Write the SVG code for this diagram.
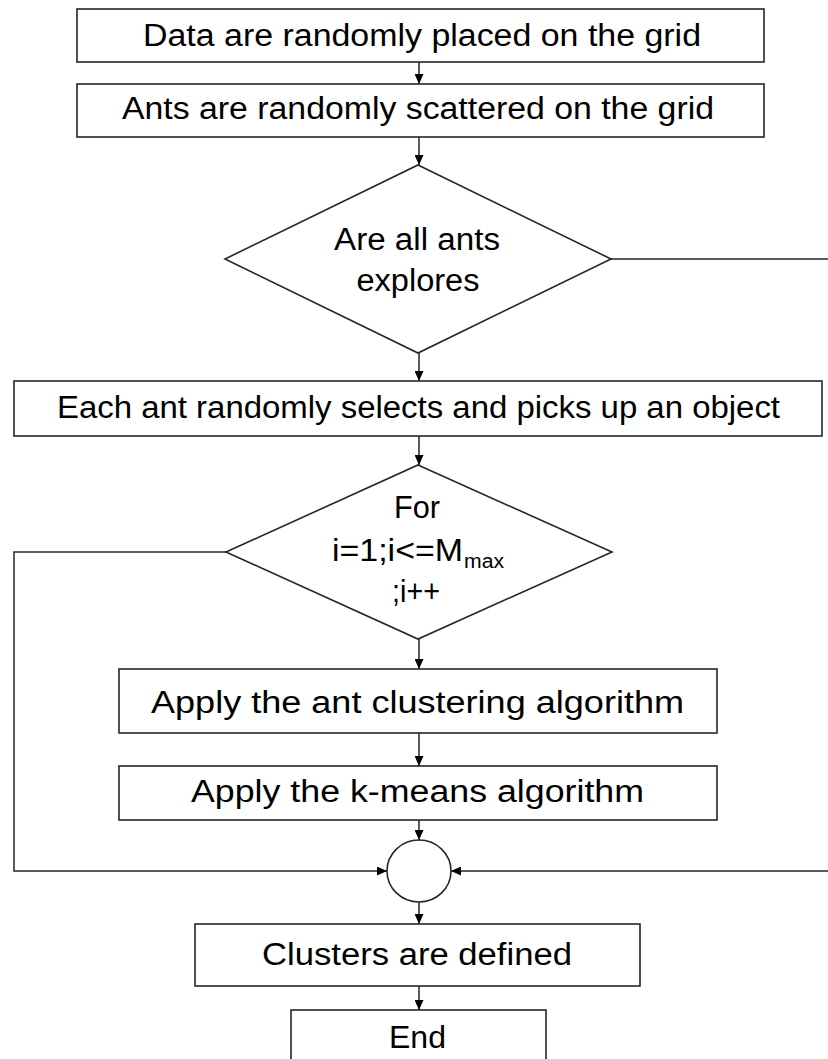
<svg xmlns="http://www.w3.org/2000/svg" width="828" height="1059" viewBox="0 0 828 1059">
<style>
.box{fill:#fff;stroke:#262626;stroke-width:1.6}
.t{font-family:"Liberation Sans",Arial,sans-serif;font-size:31px;fill:#000;text-anchor:middle}
.ts{font-family:"Liberation Sans",Arial,sans-serif;font-size:31px;fill:#000}
.sub{font-family:"Liberation Sans",Arial,sans-serif;font-size:20px;fill:#000}
.c{fill:none;stroke:#262626;stroke-width:1.5}
</style>
<defs>
<marker id="ah" markerUnits="userSpaceOnUse" markerWidth="11" markerHeight="9" refX="10" refY="4.5" orient="auto">
<path d="M0,0 L10,4.5 L0,9 z" fill="#000"/>
</marker>
</defs>
<rect width="828" height="1059" fill="#fff"/>
<g id="connectors">
<path class="c" d="M419,62 V84" marker-end="url(#ah)"/>
<path class="c" d="M419,137 V165" marker-end="url(#ah)"/>
<path class="c" d="M611,259 H830 V871 H451" marker-end="url(#ah)"/>
<path class="c" d="M419,353 V381" marker-end="url(#ah)"/>
<path class="c" d="M419,436 V465" marker-end="url(#ah)"/>
<path class="c" d="M226,552 H14 V871 H387" marker-end="url(#ah)"/>
<path class="c" d="M419,639 V669" marker-end="url(#ah)"/>
<path class="c" d="M419,733 V766" marker-end="url(#ah)"/>
<path class="c" d="M419,820 V840" marker-end="url(#ah)"/>
<path class="c" d="M419,902 V924" marker-end="url(#ah)"/>
<path class="c" d="M419,986 V1010" marker-end="url(#ah)"/>
</g>
<g id="n1">
<rect class="box" x="77" y="9" width="687" height="53"/>
<text class="t" x="422" y="46" textLength="558" lengthAdjust="spacingAndGlyphs">Data are randomly placed on the grid</text>
</g>
<g id="n2">
<rect class="box" x="77" y="84" width="687" height="53"/>
<text class="t" x="418" y="119" textLength="592" lengthAdjust="spacingAndGlyphs">Ants are randomly scattered on the grid</text>
</g>
<g id="n3">
<polygon class="box" points="418,165 611,259 418,353 225,259"/>
<text class="t" x="417" y="250" textLength="166" lengthAdjust="spacingAndGlyphs">Are all ants</text>
<text class="t" x="418" y="291" textLength="123" lengthAdjust="spacingAndGlyphs">explores</text>
</g>
<g id="n4">
<rect class="box" x="14" y="381" width="808" height="55"/>
<text class="t" x="418.5" y="418" textLength="723" lengthAdjust="spacingAndGlyphs">Each ant randomly selects and picks up an object</text>
</g>
<g id="n5">
<polygon class="box" points="418,465 612,552 418,639 226,552"/>
<text class="t" x="417" y="518" textLength="46" lengthAdjust="spacingAndGlyphs">For</text>
<text class="ts" x="332" y="561" textLength="131" lengthAdjust="spacingAndGlyphs">i=1;i&lt;=M</text>
<text class="sub" x="464" y="568" textLength="40" lengthAdjust="spacingAndGlyphs">max</text>
<text class="t" x="416" y="602" textLength="48" lengthAdjust="spacingAndGlyphs">;i++</text>
</g>
<g id="n6">
<rect class="box" x="119" y="669" width="598" height="64"/>
<text class="t" x="417.5" y="713" textLength="533" lengthAdjust="spacingAndGlyphs">Apply the ant clustering algorithm</text>
</g>
<g id="n7">
<rect class="box" x="119" y="766" width="598" height="54"/>
<text class="t" x="417.5" y="802" textLength="453" lengthAdjust="spacingAndGlyphs">Apply the k-means algorithm</text>
</g>
<g id="n8">
<ellipse class="box" cx="419" cy="871" rx="32" ry="31"/>
</g>
<g id="n9">
<rect class="box" x="195" y="924" width="445" height="62"/>
<text class="t" x="417" y="965" textLength="310" lengthAdjust="spacingAndGlyphs">Clusters are defined</text>
</g>
<g id="n10">
<rect class="box" x="291" y="1010" width="255" height="60"/>
<text class="t" x="417.5" y="1048" textLength="57" lengthAdjust="spacingAndGlyphs">End</text>
</g>
</svg>
